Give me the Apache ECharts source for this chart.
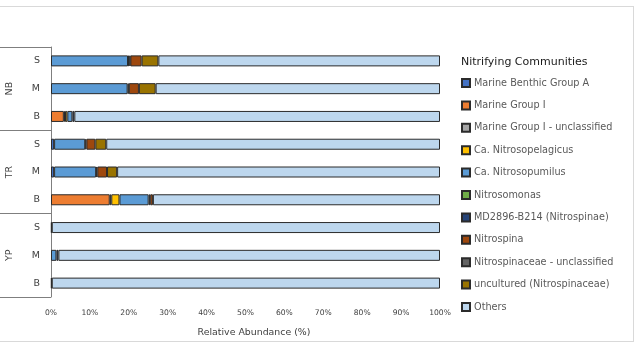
<!DOCTYPE html>
<html>
<head>
<meta charset="utf-8">
<script src="https://cdn.jsdelivr.net/npm/echarts@6/dist/echarts.min.js"></script>
<style>
  html, body { margin: 0; padding: 0; background: #fff; }
  #frame { position: absolute; left: -1px; top: 6px; width: 633px; height: 334px; border: 1px solid #d9d9d9; }
  #chart { position: absolute; left: 0; top: 0; width: 637px; height: 349px; }
</style>
</head>
<body>
<div id="frame"></div>
<div id="chart"></div>
<script>
// ── 数据 ──────────────────────────────────────────────
// 行顺序：从上到下
var sampleIds = ["NB-S", "NB-M", "NB-B", "TR-S", "TR-M", "TR-B", "YP-S", "YP-M", "YP-B"];
var sites = ["NB", "TR", "YP"];

var taxa = [
    "Marine Benthic Group A",
    "Marine Group I",
    "Marine Group I - unclassified",
    "Ca. Nitrosopelagicus",
    "Ca. Nitrosopumilus",
    "Nitrosomonas",
    "MD2896-B214 (Nitrospinae)",
    "Nitrospina",
    "Nitrospinaceae - unclassified",
    "uncultured (Nitrospinaceae)",
    "Others"
];

var mbga         = [0,    0,    0,    0.8,  0.8,  0,    0.2,  0,    0.2];
var mgi          = [0,    0,    3.3,  0,    0,    15.1, 0,    0,    0];
var mgiUncl      = [0,    0,    0.3,  0,    0,    0.4,  0,    0,    0];
var pelagicus    = [0,    0,    0.6,  0,    0,    2.1,  0,    0,    0];
var pumilus      = [19.8, 19.7, 1.3,  8.0,  10.8, 7.5,  0,    1.4,  0];
var nitrosomonas = [0.4,  0,    0,    0,    0,    0,    0,    0,    0];
var md2896       = [0.2,  0.3,  0.5,  0.3,  0.3,  0.4,  0,    0.5,  0];
var nitrospina   = [2.9,  2.6,  0,    2.3,  2.5,  0.7,  0,    0,    0];
var nspUncl      = [0,    0,    0,    0,    0,    0,    0,    0,    0];
var uncultured   = [4.3,  4.3,  0,    2.8,  2.6,  0,    0,    0,    0];
var others       = [72.4, 73.1, 94.0, 85.8, 83.0, 73.8, 99.8, 98.1, 99.8];

var seriesValues = [mbga, mgi, mgiUncl, pelagicus, pumilus, nitrosomonas,
                    md2896, nitrospina, nspUncl, uncultured, others];

var colors = ["#4472C4", "#ED7D31", "#A5A5A5", "#FFC000", "#5B9BD5", "#70AD47",
              "#264478", "#9E480E", "#636363", "#997300", "#BDD7EE"];

// ── 图表 ──────────────────────────────────────────────
var FONT = "DejaVu Sans";
var chart = echarts.init(document.getElementById("chart"), null, { renderer: "canvas" });

var series = taxa.map(function(name, i) {
    return {
        name: name,
        type: "bar",
        stack: "total",
        barWidth: 11,
        yAxisIndex: 0,
        itemStyle: { color: colors[i], borderColor: "#2b2b2b", borderWidth: 1 },
        emphasis: { disabled: true },
        data: seriesValues[i].map(function(v) { return v === 0 ? null : v; })
    };
});

chart.setOption({
    animation: false,
    textStyle: { fontFamily: FONT },
    title: {
        text: "Nitrifying Communities",
        left: 456, top: 52,
        textStyle: { fontFamily: FONT, fontSize: 11, fontWeight: "normal", color: "#1a1a1a" }
    },
    legend: {
        orient: "vertical",
        left: 456, top: 72,
        itemWidth: 8, itemHeight: 8, itemGap: 10.4,
        icon: "rect",
        data: taxa,
        textStyle: { fontFamily: FONT, fontSize: 9.7, lineHeight: 12, color: "#595959", padding: [0, 0, 0, -1] }
    },
    grid: { left: 51, right: 197, top: 47, bottom: 52, containLabel: false },
    xAxis: {
        type: "value", min: 0, max: 100, interval: 10,
        axisLine: { show: false },
        axisTick: { show: false },
        splitLine: { show: false },
        axisLabel: { formatter: "{value}%", fontSize: 7.6, color: "#404040", margin: 12, fontFamily: FONT },
        name: "Relative Abundance (%)",
        nameLocation: "middle",
        nameGap: 31,
        nameTextStyle: { fontSize: 9.4, color: "#404040", fontFamily: FONT, padding: [0, 0, 0, 17] }
    },
    yAxis: [{
        type: "category",
        data: sampleIds,
        inverse: true,
        axisLine: { show: true, lineStyle: { color: "#7f7f7f", width: 1 } },
        axisTick: { show: false },
        axisLabel: {
            fontSize: 9.5, color: "#404040", margin: 11, fontFamily: FONT,
            formatter: function(v) { return v.split("-")[1]; }
        }
    }, {
        type: "category",
        data: sites,
        inverse: true,
        position: "left",
        axisLine: { show: false },
        axisTick: { show: true, length: 51, lineStyle: { color: "#7f7f7f", width: 1 } },
        axisLabel: { fontSize: 9.5, color: "#404040", margin: 36, rotate: 90, fontFamily: FONT }
    }],
    series: series
});
</script>
</body>
</html>
